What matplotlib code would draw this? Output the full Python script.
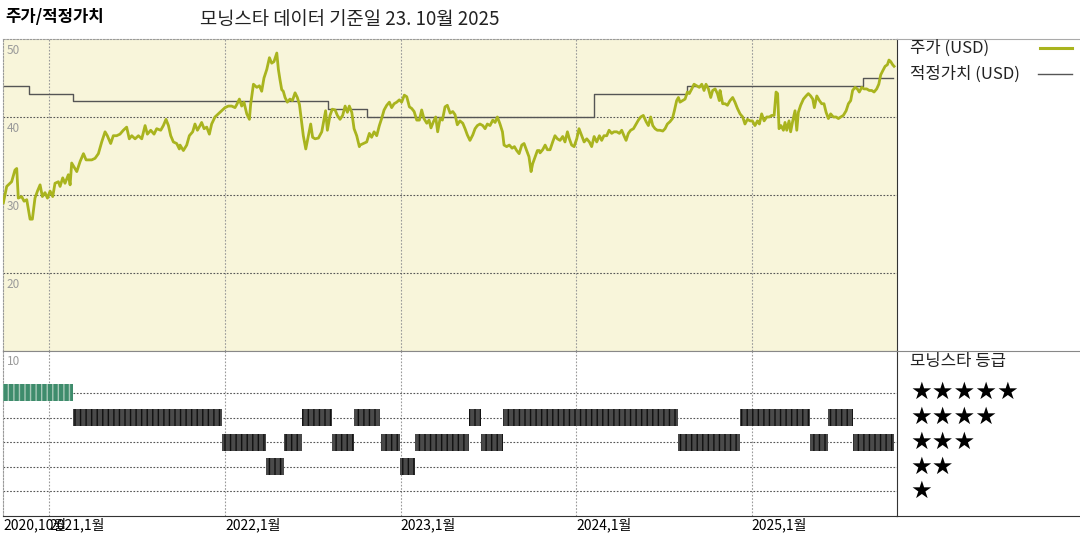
import matplotlib
matplotlib.use("Agg")
import matplotlib.pyplot as plt
from matplotlib.lines import Line2D

plt.rcParams['font.family'] = ['Noto Sans CJK KR', 'DejaVu Sans']

# price (USD), x in decimal years
price_t = [
    2020.738, 2020.757, 2020.785, 2020.804, 2020.814, 2020.823, 2020.842, 2020.856, 2020.871, 2020.890,
    2020.903, 2020.918, 2020.932, 2020.947, 2020.960, 2020.975, 2020.989, 2021.004, 2021.019, 2021.032,
    2021.051, 2021.061, 2021.076, 2021.089, 2021.108, 2021.118, 2021.127, 2021.140, 2021.156, 2021.175,
    2021.194, 2021.209, 2021.222, 2021.241, 2021.260, 2021.279, 2021.298, 2021.317, 2021.330, 2021.349,
    2021.364, 2021.383, 2021.402, 2021.421, 2021.440, 2021.455, 2021.469, 2021.488, 2021.507, 2021.526,
    2021.545, 2021.558, 2021.577, 2021.596, 2021.611, 2021.634, 2021.649, 2021.664, 2021.678, 2021.691,
    2021.706, 2021.725, 2021.740,
    2021.744, 2021.763, 2021.782, 2021.797, 2021.816, 2021.829, 2021.843, 2021.858, 2021.867, 2021.881,
    2021.896, 2021.911, 2021.924, 2021.943, 2021.962, 2021.981, 2022.000, 2022.019, 2022.038, 2022.057,
    2022.067, 2022.082, 2022.095, 2022.108, 2022.124, 2022.139, 2022.146, 2022.162, 2022.181, 2022.196,
    2022.209, 2022.222, 2022.238, 2022.253, 2022.266, 2022.279, 2022.295, 2022.304, 2022.313, 2022.323,
    2022.332, 2022.342, 2022.355, 2022.370, 2022.384, 2022.399, 2022.412, 2022.424, 2022.437, 2022.446,
    2022.460, 2022.475, 2022.488, 2022.499, 2022.513, 2022.532, 2022.551, 2022.564, 2022.573, 2022.583,
    2022.598, 2022.611, 2022.627, 2022.640, 2022.655, 2022.670, 2022.684, 2022.697, 2022.708, 2022.722,
    2022.735, 2022.750, 2022.765,
    2022.769, 2022.788, 2022.807, 2022.822, 2022.835, 2022.849, 2022.864, 2022.879, 2022.892, 2022.906,
    2022.921, 2022.936, 2022.949, 2022.963, 2022.978, 2022.993, 2023.006, 2023.021, 2023.035, 2023.050,
    2023.063, 2023.077, 2023.092, 2023.107, 2023.120, 2023.133, 2023.149, 2023.162, 2023.173, 2023.187,
    2023.200, 2023.211, 2023.225, 2023.238, 2023.253, 2023.266, 2023.282, 2023.297, 2023.310, 2023.323,
    2023.338, 2023.354, 2023.367, 2023.380, 2023.395, 2023.411, 2023.424, 2023.437, 2023.452, 2023.468,
    2023.481, 2023.494, 2023.509, 2023.525, 2023.538, 2023.551, 2023.566, 2023.580, 2023.589, 2023.604,
    2023.619, 2023.635, 2023.648, 2023.661, 2023.675, 2023.690, 2023.703, 2023.718, 2023.731, 2023.743,
    2023.752, 2023.766, 2023.779, 2023.790,
    2023.794, 2023.809, 2023.823, 2023.836, 2023.851, 2023.866, 2023.879, 2023.893, 2023.908, 2023.923,
    2023.936, 2023.950, 2023.961, 2023.974, 2023.988, 2024.003, 2024.016, 2024.031, 2024.045, 2024.060,
    2024.075, 2024.088, 2024.102, 2024.117, 2024.132, 2024.145, 2024.158, 2024.174, 2024.187, 2024.202,
    2024.215, 2024.231, 2024.246, 2024.259, 2024.272, 2024.284, 2024.297, 2024.310, 2024.326, 2024.341,
    2024.354, 2024.367, 2024.382, 2024.398, 2024.411, 2024.424, 2024.436, 2024.449, 2024.462, 2024.477,
    2024.493, 2024.506, 2024.519, 2024.534, 2024.548, 2024.559, 2024.572, 2024.582, 2024.591, 2024.606,
    2024.620, 2024.633, 2024.644, 2024.658, 2024.671, 2024.686, 2024.701, 2024.715, 2024.728, 2024.739,
    2024.753, 2024.766, 2024.777, 2024.791, 2024.804, 2024.815,
    2024.819, 2024.834, 2024.848, 2024.861, 2024.876, 2024.891, 2024.904, 2024.918, 2024.933, 2024.948,
    2024.961, 2024.975, 2024.990, 2025.003, 2025.018, 2025.032, 2025.043, 2025.056, 2025.070, 2025.085,
    2025.100, 2025.113, 2025.127, 2025.138, 2025.147, 2025.155, 2025.166, 2025.180, 2025.189, 2025.199,
    2025.212, 2025.221, 2025.233, 2025.246, 2025.256, 2025.265, 2025.278, 2025.294, 2025.309, 2025.322,
    2025.335, 2025.347, 2025.356, 2025.370, 2025.385, 2025.398, 2025.411, 2025.423, 2025.436, 2025.449,
    2025.464, 2025.480, 2025.493, 2025.506, 2025.521, 2025.537, 2025.550, 2025.563, 2025.574, 2025.588,
    2025.601, 2025.612, 2025.626, 2025.639, 2025.654, 2025.669, 2025.683, 2025.696, 2025.711, 2025.723,
    2025.734, 2025.745, 2025.759, 2025.772, 2025.781, 2025.791, 2025.802, 2025.810,
]
price_v = [
    29.0, 31.1, 31.7, 33.2, 33.4, 29.6, 29.8, 29.2, 29.4, 26.9,
    26.9, 29.6, 30.5, 31.3, 29.8, 30.3, 29.6, 30.5, 29.8, 31.5,
    31.7, 31.1, 32.2, 31.5, 32.6, 31.3, 34.1, 33.6, 33.0, 34.3,
    35.3, 34.5, 34.5, 34.5, 34.7, 35.3, 36.8, 38.1, 37.6, 36.6,
    37.6, 37.6, 37.8, 38.3, 38.7, 37.2, 37.6, 37.2, 37.6, 37.2,
    38.9, 37.8, 38.3, 37.8, 38.5, 38.3, 38.9, 39.7, 38.9, 37.6,
    36.8, 36.6, 35.9,
    36.4, 35.7, 36.4, 37.6, 38.1, 39.1, 38.3, 38.9, 39.3, 38.5,
    38.7, 37.8, 39.1, 40.0, 40.4, 40.8, 41.2, 41.4, 41.4, 41.2,
    41.6, 42.3, 41.4, 41.9, 40.4, 39.7, 41.6, 44.2, 43.8, 44.0,
    43.3, 45.0, 46.1, 47.6, 46.9, 47.1, 48.2, 46.1, 44.8, 43.5,
    43.3, 42.5, 41.9, 42.3, 42.1, 43.1, 42.5, 41.6, 39.3, 37.6,
    35.9, 37.6, 39.1, 37.4, 37.2, 37.3, 38.1, 39.7, 40.8, 38.3,
    40.2, 41.0, 40.9, 40.2, 39.7, 40.2, 41.4, 40.6, 41.4, 40.6,
    38.5, 37.6, 36.2,
    36.4, 36.6, 36.8, 37.9, 37.4, 38.1, 37.6, 38.9, 39.8, 40.9,
    41.5, 41.9, 41.2, 41.7, 41.9, 42.2, 41.9, 42.8, 42.6, 41.3,
    41.1, 40.7, 39.6, 39.6, 40.9, 39.8, 39.2, 39.6, 38.6, 39.4,
    40.0, 38.1, 39.8, 39.6, 41.3, 41.5, 40.5, 40.7, 40.3, 39.0,
    39.5, 39.2, 38.5, 37.7, 37.0, 37.7, 38.5, 38.9, 39.1, 38.9,
    38.5, 39.1, 38.9, 39.6, 39.3, 40.0, 39.1, 38.1, 36.4, 36.2,
    36.4, 36.0, 36.2, 35.7, 35.3, 36.4, 36.6, 35.7, 34.9, 33.0,
    34.0, 34.9, 35.7, 35.7,
    35.4, 35.8, 36.4, 35.8, 35.8, 36.8, 37.6, 37.2, 37.0, 37.5,
    36.8, 38.1, 37.2, 36.4, 36.2, 37.2, 38.5, 37.6, 36.8, 37.2,
    36.8, 36.2, 37.5, 36.8, 37.6, 37.0, 37.6, 37.6, 38.3, 37.9,
    38.1, 38.1, 37.9, 38.3, 37.6, 37.0, 37.9, 38.3, 38.5, 39.1,
    39.6, 40.0, 40.2, 39.4, 38.9, 40.0, 38.9, 38.5, 38.3, 38.3,
    38.2, 38.5, 39.1, 39.4, 39.8, 40.8, 42.1, 42.5, 41.9, 42.1,
    42.3, 43.2, 43.0, 43.6, 44.2, 44.0, 43.8, 44.2, 43.4, 44.2,
    43.6, 42.5, 43.4, 43.6, 43.0, 42.1,
    43.4, 41.7, 41.7, 41.5, 42.1, 42.5, 41.9, 41.1, 40.4, 40.0,
    39.1, 39.7, 39.5, 39.5, 38.9, 39.5, 39.1, 40.4, 39.5, 40.0,
    40.0, 40.2, 40.2, 43.2, 43.0, 38.5, 38.9, 38.3, 39.3, 38.3,
    39.5, 38.1, 39.5, 40.8, 38.3, 40.6, 41.5, 42.3, 42.7, 43.0,
    42.7, 42.3, 41.2, 42.7, 42.1, 41.7, 41.7, 40.6, 39.8, 40.4,
    40.0, 40.0, 39.8, 40.0, 40.2, 40.8, 41.7, 42.1, 43.4, 43.8,
    43.6, 43.2, 43.8, 43.6, 43.6, 43.4, 43.4, 43.2, 43.6, 44.2,
    45.4, 45.9, 46.5, 46.7, 47.3, 47.1, 46.7, 46.5,
]

# fair value (USD), step changes
fair_t = [2020.738, 2020.884, 2021.133, 2022.585, 2022.807, 2024.102, 2024.629, 2025.635, 2025.802]
fair_v = [44, 43, 42, 41, 40, 43, 44, 45, 45]

# morningstar rating periods
rating_start = [2020.738, 2021.133, 2021.982, 2022.232, 2022.337, 2022.441, 2022.608, 2022.737,
                2022.889, 2022.997, 2023.084, 2023.392, 2023.457, 2023.585, 2024.582, 2024.933,
                2025.147, 2025.332, 2025.431, 2025.575]
rating_end = [2021.133, 2021.982, 2022.232, 2022.337, 2022.441, 2022.608, 2022.737, 2022.883,
              2022.997, 2023.084, 2023.392, 2023.457, 2023.585, 2024.582, 2024.933, 2025.332,
              2025.149, 2025.431, 2025.575, 2025.810]
rating_star = [5, 4, 3, 2, 3, 4, 3, 4, 3, 2, 3, 4, 3, 4, 3, 4, 3, 3, 4, 3]

year_ticks = [2021, 2022, 2023, 2024, 2025]
year_labels = ['2021,1월', '2022,1월', '2023,1월', '2024,1월', '2025,1월']
value_ticks = [20, 30, 40, 50]
x_start, x_end = 2020.736, 2025.827

price_color = '#a9b41e'
fair_color = '#555555'
grid_dark = '#555555'
grid_light = '#9a9a9a'

fig = plt.figure(figsize=(10.8, 5.4), dpi=100)

# ---- price / fair value panel
ax1 = fig.add_axes([0.0028, 0.35, 0.8278, 0.5778])
ax1.set_facecolor('#f8f5da')
for t in year_ticks:
    ax1.axvline(t, color=grid_light, lw=0.8, ls=(0, (1.5, 1.5)), zorder=1)
for v in value_ticks[:-1]:
    ax1.axhline(v, color=grid_dark, lw=0.8, ls=(0, (1.5, 1.5)), zorder=1)
ax1.plot(price_t, price_v, color=price_color, lw=2.0, zorder=3, solid_joinstyle='round')
ax1.step(fair_t, fair_v, where='post', color=fair_color, lw=1.0, zorder=2)
ax1.set_xlim(x_start, x_end)
ax1.set_ylim(10, 50)
ax1.set_xticks([])
ax1.set_yticks([])
for v in value_ticks:
    ax1.text(x_start + 0.02, v - 0.6, str(v), va='top', ha='left', fontsize=8.5, color='#9a9a9a')
ax1.spines['top'].set_linestyle((0, (1.5, 1.5)))
ax1.spines['top'].set_color(grid_light)
ax1.spines['left'].set_linestyle((0, (1.5, 1.5)))
ax1.spines['left'].set_color(grid_light)
ax1.spines['right'].set_color('#333333')
ax1.spines['bottom'].set_color('#888888')

# ---- rating panel
ax2 = fig.add_axes([0.0028, 0.0444, 0.8278, 0.3056])
ax2.set_xlim(x_start, x_end)
ax2.set_ylim(0, 6.7)
for t in year_ticks:
    ax2.axvline(t, color=grid_light, lw=0.8, ls=(0, (1.5, 1.5)), zorder=1)
for s in range(1, 6):
    ax2.axhline(s, color=grid_dark, lw=0.8, ls=(0, (1.5, 1.5)), zorder=1)
for s0, s1, star in zip(rating_start, rating_end, rating_star):
    if star == 5:
        face, hatch_col = '#3e8c6c', '#a7c9b8'
    else:
        face, hatch_col = '#4a4a4a', '#111111'
    ax2.broken_barh([(s0, s1 - s0)], (star - 0.35, 0.7), facecolors=face,
                    edgecolor=hatch_col, hatch='|||', lw=0, zorder=3)
ax2.set_yticks([])
ax2.set_xticks(year_ticks)
ax2.set_xticklabels(year_labels, ha='left', fontsize=10)
ax2.tick_params(axis='x', length=0, pad=1)
ax2.text(x_start, -0.05, '2020,10월', transform=ax2.transData, ha='left', va='top', fontsize=10)
ax2.text(x_start + 0.02, 6.55, '10', va='top', ha='left', fontsize=8.5, color='#9a9a9a')
ax2.spines['top'].set_color('#888888')
ax2.spines['left'].set_linestyle((0, (1.5, 1.5)))
ax2.spines['left'].set_color(grid_light)
ax2.spines['right'].set_color('#333333')
ax2.spines['bottom'].set_color('#333333')

# ---- frame lines in the legend area
fig.add_artist(Line2D([0.83, 1.0], [0.9278, 0.9278], color='#aaaaaa', lw=0.8))
fig.add_artist(Line2D([0.83, 1.0], [0.35, 0.35], color='#888888', lw=0.8))
fig.add_artist(Line2D([0.83, 1.0], [0.0444, 0.0444], color='#333333', lw=0.8))

# ---- titles
fig.text(0.005, 0.968, '주가/적정가치', fontsize=12, fontweight='bold', va='center', ha='left')
fig.text(0.185, 0.963, '모닝스타 데이터 기준일 23. 10월 2025', fontsize=13.5, va='center', ha='left', color='#222222')

# ---- legends
fig.text(0.843, 0.911, '주가 (USD)', fontsize=12, va='center', ha='left', color='#222222')
fig.add_artist(Line2D([0.963, 0.993], [0.911, 0.911], color=price_color, lw=2.2))
fig.text(0.843, 0.863, '적정가치 (USD)', fontsize=12, va='center', ha='left', color='#222222')
fig.add_artist(Line2D([0.961, 0.993], [0.863, 0.863], color=fair_color, lw=1.0))

fig.text(0.843, 0.33, '모닝스타 등급', fontsize=12, va='center', ha='left', color='#222222')
star_y = [0.274, 0.228, 0.181, 0.135, 0.091]
for n, y in zip([5, 4, 3, 2, 1], star_y):
    fig.text(0.843, y, '★' * n, fontsize=17.5, va='center', ha='left',
             family=['DejaVu Sans'], color='black')

fig.savefig('out.png', dpi=100)
